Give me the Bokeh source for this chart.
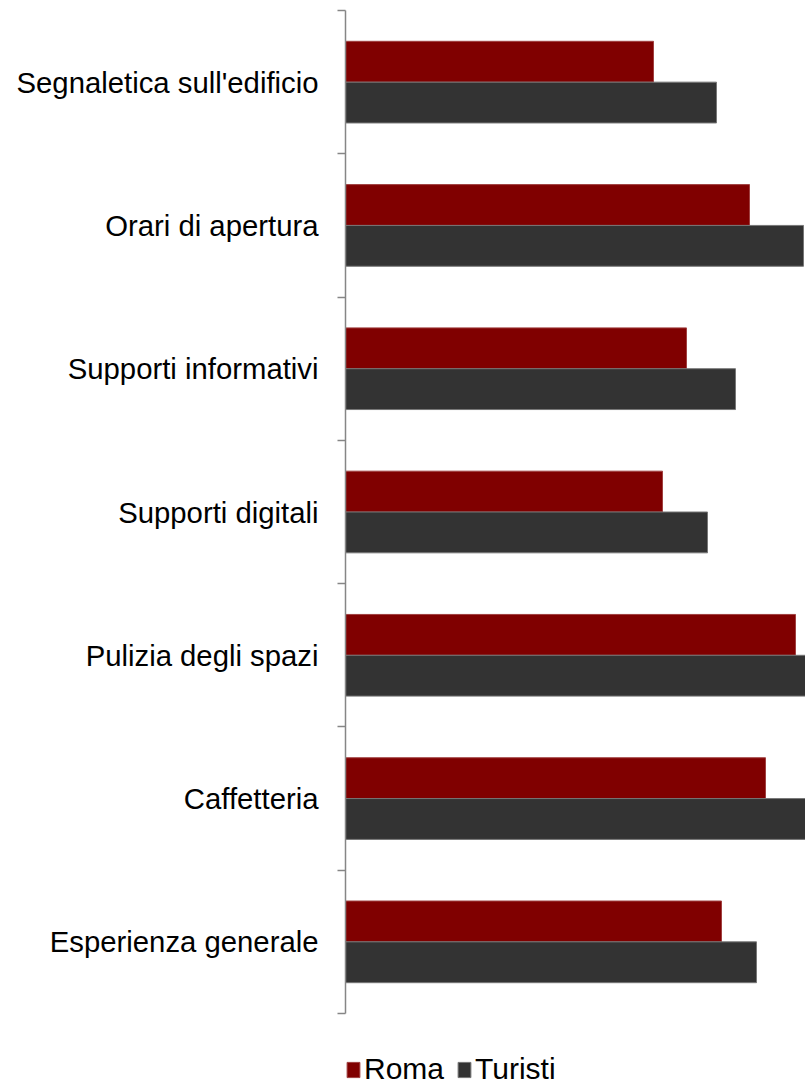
from bokeh.plotting import figure
from bokeh.models import Range1d, FixedTicker, Legend, LegendItem, ColumnDataSource
from bokeh.embed import file_html
from bokeh.resources import INLINE

categories = ["Segnaletica sull'edificio", "Orari di apertura", "Supporti informativi",
              "Supporti digitali", "Pulizia degli spazi", "Caffetteria", "Esperienza generale"]
roma = [3.08, 4.04, 3.41, 3.17, 4.50, 4.20, 3.76]
turisti = [3.71, 4.58, 3.90, 3.62, 4.75, 4.72, 4.11]
series_names = ["Roma", "Turisti"]
colors = ["#800000", "#333333"]
outline = ["#a04040", "#777777"]

n = len(categories)
centers = [n - i - 0.5 for i in range(n)]
bar_h = 0.285
off = 0.1425
extra = 73 / (1003 / n)   # room below the last category for the legend

p = figure(width=805, height=1086, output_backend="svg", toolbar_location=None,
           x_range=Range1d(0, 4.6), y_range=Range1d(-extra, n),
           min_border_left=345, min_border_right=0, min_border_top=10, min_border_bottom=0)
p.outline_line_color = None
p.grid.visible = False
p.xaxis.visible = False

src_r = ColumnDataSource(dict(y=[c + off for c in centers], v=roma))
src_t = ColumnDataSource(dict(y=[c - off for c in centers], v=turisti))
r1 = p.hbar(y="y", right="v", left=0, height=bar_h, source=src_r,
            fill_color=colors[0], line_color=outline[0], line_width=1)
r2 = p.hbar(y="y", right="v", left=0, height=bar_h, source=src_t,
            fill_color=colors[1], line_color=outline[1], line_width=1)

ya = p.yaxis[0]
ya.bounds = (0, n)
ya.ticker = FixedTicker(ticks=centers, minor_ticks=list(range(n + 1)))
ya.major_label_overrides = {c: categories[i] for i, c in enumerate(centers)}
ya.major_tick_out = 0
ya.major_tick_in = 0
ya.minor_tick_out = 8
ya.minor_tick_in = 0
ya.minor_tick_line_color = "#868686"
ya.minor_tick_line_width = 1.5
ya.axis_line_color = "#868686"
ya.axis_line_width = 1.5
ya.major_label_standoff = 19
ya.major_label_text_font = "Liberation Sans"
ya.major_label_text_font_size = "29.3px"
ya.major_label_text_color = "#000000"

legend = Legend(items=[LegendItem(label=series_names[0], renderers=[r1]),
                       LegendItem(label=series_names[1], renderers=[r2])],
                orientation="horizontal", location=(0, 0),
                glyph_width=16, glyph_height=19, label_text_font="Liberation Sans",
                label_text_font_size="30px", label_text_color="#000000",
                label_standoff=3, spacing=12,
                border_line_color=None, background_fill_alpha=0, padding=0, margin=0)
p.add_layout(legend, "center")

open("out.html", "w").write(file_html(p, INLINE))
